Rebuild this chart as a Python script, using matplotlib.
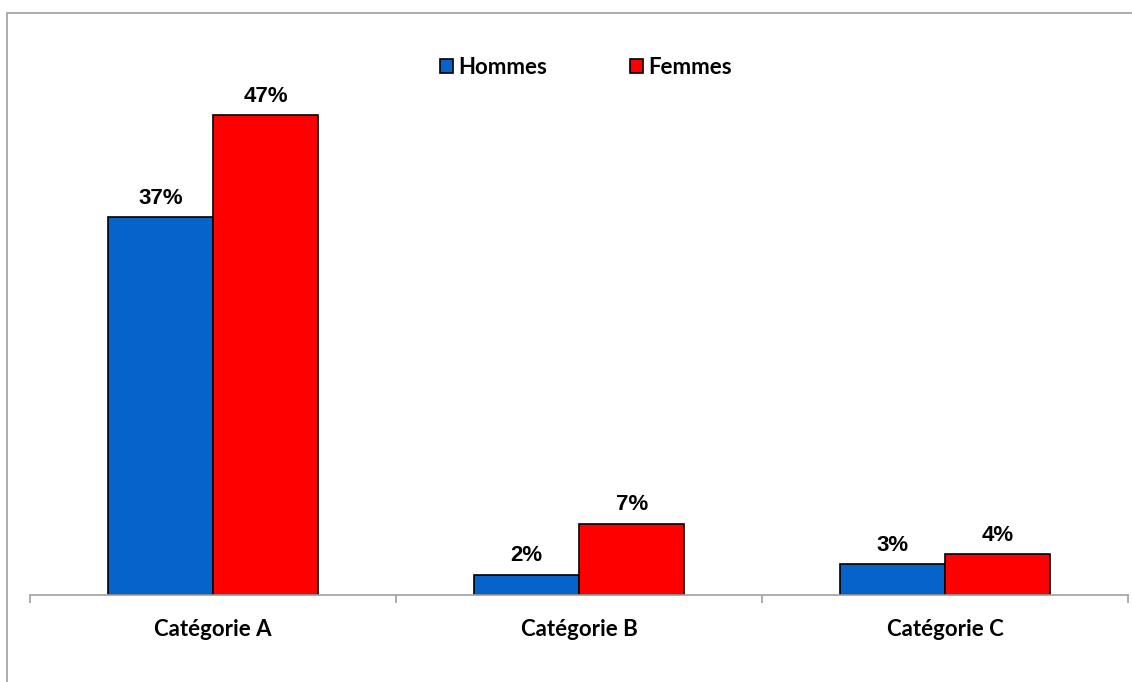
import matplotlib
matplotlib.use("Agg")
import matplotlib.pyplot as plt
from matplotlib.patches import Rectangle, Patch
import numpy as np

categories = ["Catégorie A", "Catégorie B", "Catégorie C"]
series_names = ["Hommes", "Femmes"]
hommes = [37, 2, 3]
femmes = [47, 7, 4]
colors = ["#0563C9", "#FF0000"]

W, H = 1132, 682
fig = plt.figure(figsize=(W / 100, H / 100), dpi=100)

# outer chart border (only top and left edges fall inside the canvas)
fig.patches.append(Rectangle((6.5 / W, -0.1), 1.2, (H - 12.5) / H + 0.1,
                             transform=fig.transFigure, fill=False,
                             edgecolor="#a6a6a6", linewidth=1.3))

ymax = 50
px_per_unit = 480 / 47
ax_h = ymax * px_per_unit
ax = fig.add_axes([30 / W, (H - 595) / H, 1098 / W, ax_h / H])

x = np.arange(len(categories))
width = 0.288
b1 = ax.bar(x - width / 2, hommes, width, color=colors[0], edgecolor="black",
            linewidth=1.2, label=series_names[0])
b2 = ax.bar(x + width / 2, femmes, width, color=colors[1], edgecolor="black",
            linewidth=1.2, label=series_names[1])

for bars, vals in ((b1, hommes), (b2, femmes)):
    for rect, v in zip(bars, vals):
        ax.annotate(f"{v}%", (rect.get_x() + rect.get_width() / 2, v),
                    xytext=(0, 6), textcoords="offset points",
                    ha="center", va="bottom", fontsize=16, fontweight="bold",
                    family="Liberation Sans", color="black")

ax.set_xlim(-0.5, len(categories) - 0.5)
ax.set_ylim(0, ymax)
for s in ("top", "right", "left"):
    ax.spines[s].set_visible(False)
ax.spines["bottom"].set_color("#a0a0a0")
ax.spines["bottom"].set_linewidth(1.2)
ax.set_yticks([])
ax.set_xticks(np.arange(-0.5, len(categories), 1.0))
ax.set_xticklabels([])
ax.set_xticks(x, minor=True)
ax.set_xticklabels(categories, minor=True, fontsize=16, fontweight="bold",
                   family="Lato", color="black")
ax.tick_params(axis="x", which="major", length=6, width=1.2, color="#a0a0a0",
               direction="out")
ax.tick_params(axis="x", which="minor", length=0, pad=17)

handles = [Patch(facecolor=colors[0], edgecolor="black", linewidth=1.2),
           Patch(facecolor=colors[1], edgecolor="black", linewidth=1.2)]
fig.legend(handles, series_names, loc="center", ncol=2,
           bbox_to_anchor=(586 / W, (H - 67) / H), frameon=False,
           prop={"family": "Lato", "weight": "bold", "size": 16},
           labelcolor="black",
           handlelength=0.58, handleheight=0.58, handletextpad=0.25,
           columnspacing=3.7, borderpad=0)

fig.savefig("out.png", dpi=100, facecolor="white")
